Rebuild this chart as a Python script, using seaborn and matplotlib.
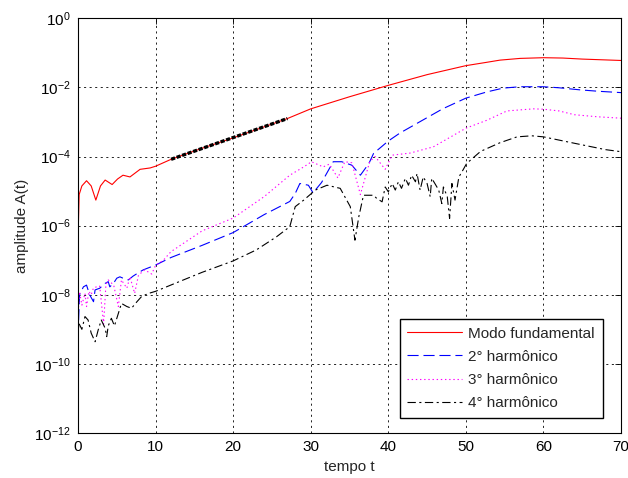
import numpy as np
import pandas as pd
import matplotlib
matplotlib.use("Agg")
import matplotlib.pyplot as plt
import seaborn as sns
from matplotlib.ticker import FixedLocator, LogFormatterSciNotation, NullLocator

# ---------------- data (amplitudes given as log10) ----
red_t = [0, 0.15, 0.5, 1.1, 1.7, 2.3, 2.9, 3.5, 4.4, 5.1, 5.8, 6.7, 8.0, 9.3, 10,
         12, 16, 20, 24, 27, 30, 35, 40, 45, 50, 52.5, 54.4, 57, 60, 62.5,
         65, 67.5, 70]
red_log = [-6.4, -5.1, -4.85, -4.70, -4.85, -5.26, -4.85, -4.68, -4.81, -4.65,
           -4.54, -4.59, -4.37, -4.33, -4.28, -4.08, -3.76, -3.46, -3.14, -2.90,
           -2.62, -2.27, -1.94, -1.63, -1.37, -1.28, -1.21, -1.16, -1.14,
           -1.15, -1.18, -1.20, -1.22]

blue_t = [0, 0.2, 0.7, 1.1, 1.5, 2.0, 2.2, 2.8, 3.5, 3.9, 4.1, 4.6, 5.0, 5.4, 5.8,
          6.5, 7.1, 7.8, 8.4, 10, 12, 16, 20, 24, 27.3, 28.0, 28.6, 29.7, 30.3,
          31.4, 32.9, 34.0, 35.3, 36.4, 37.5, 38.1, 40, 41.5, 43.7, 47, 50, 52.7,
          54.8, 57, 60, 62, 64.7, 67, 70]
blue_log = [-9.2, -8.0, -7.77, -7.72, -8.0, -8.2, -7.86, -7.81, -7.67, -7.62,
            -7.77, -7.66, -7.52, -7.48, -7.52, -7.57, -7.46, -7.36, -7.28, -7.14,
            -6.92, -6.57, -6.20, -5.68, -5.30, -5.07, -4.78, -4.83, -5.05, -4.75,
            -4.15, -4.15, -4.25, -4.54, -4.20, -3.91, -3.55, -3.32, -3.04, -2.62,
            -2.31, -2.13, -2.02, -1.98, -1.98, -2.01, -2.07, -2.11, -2.15]

mag_t = [0, 0.2, 0.5, 0.9, 1.1, 1.4, 1.7, 2.0, 2.4, 2.8, 3.3, 3.6, 3.9, 4.6, 5.2,
         5.6, 6.3, 6.7, 7.3, 7.8, 8.6, 9.5, 10, 11, 12, 16, 20, 24, 27.3, 29.1,
         30.1, 31.6, 32.4, 33.5, 34.4, 35.3, 36.4, 37.6, 38.3, 39.6, 40.5, 42.8,
         45.8, 50, 52.7, 55.3, 58.7, 60, 62, 64, 67, 70]
mag_log = [-8.6, -7.91, -8.3, -7.96, -8.34, -7.9, -8.0, -7.8, -7.77, -7.75, -8.85,
           -7.7, -7.57, -7.72, -8.34, -7.57, -7.81, -7.48, -7.96, -7.43, -7.28,
           -7.4, -7.15, -7.0, -6.75, -6.15, -5.78, -5.16, -4.54, -4.30, -4.15,
           -4.30, -4.22, -4.62, -4.15, -4.18, -5.10, -4.15, -4.00, -4.37, -3.96,
           -3.90, -3.72, -3.18, -2.95, -2.68, -2.62, -2.63, -2.68, -2.79, -2.85,
           -2.89]

blk_t = [0, 0.1, 0.5, 0.9, 1.3, 1.7, 2.2, 2.6, 3.0, 3.5, 3.7, 3.9, 4.3, 4.7, 5.2,
         5.6, 6.3, 6.9, 7.6, 8.2, 9.1, 10, 12.5, 16, 20, 23, 25.6, 27.3, 28.0,
         29.1, 30.6, 32.1, 33.8, 35.1, 35.7, 36.2, 36.8, 38.1, 38.5, 39.2, 39.6,
         40.0, 40.5, 40.9, 41.3, 41.7, 42.2, 42.6, 43.0, 43.5, 43.7, 44.1, 44.5,
         45.0, 45.4, 45.6, 46.0, 46.5, 46.9, 47.1, 47.6, 47.9, 48.2, 48.6, 49.1,
         49.5, 50.1, 51.9, 54.4, 56.6, 58.5, 60, 63, 65.6, 68, 70]
blk_log = [-9.3, -8.82, -9.0, -8.63, -8.73, -9.11, -9.36, -9.02, -8.73, -8.97,
           -9.21, -8.9, -8.68, -8.9, -8.54, -8.25, -8.34, -8.39, -8.20, -8.05,
           -7.96, -7.90, -7.67, -7.35, -7.02, -6.70, -6.32, -6.03, -5.45, -5.26,
           -4.97, -4.83, -4.92, -5.45, -6.42, -5.74, -5.12, -5.12, -5.21, -5.31,
           -4.88, -5.02, -4.78, -4.97, -4.73, -4.92, -4.63, -4.83, -4.54, -4.73,
           -4.49, -4.97, -4.59, -4.78, -5.16, -4.63, -4.78, -4.97, -5.36, -4.88,
           -5.16, -5.79, -4.78, -5.26, -4.59, -4.44, -4.20, -3.85, -3.60, -3.43,
           -3.40, -3.43, -3.57, -3.69, -3.80, -3.86]

fit_t = [12, 27]
fit_log = [-4.08, -2.90]

labels = ["Modo fundamental", "2° harmônico", "3° harmônico", "4° harmônico"]
yticks = [1e-12, 1e-10, 1e-8, 1e-6, 1e-4, 1e-2, 1e0]
xticks = [0, 10, 20, 30, 40, 50, 60, 70]

# ---------------- build tidy frame ----------------
frames = []
for name, t, lg in zip(labels, [red_t, blue_t, mag_t, blk_t],
                       [red_log, blue_log, mag_log, blk_log]):
    frames.append(pd.DataFrame({"t": t, "A": 10.0 ** np.asarray(lg), "serie": name}))
df = pd.concat(frames, ignore_index=True)
fit_df = pd.DataFrame({"t": fit_t, "A": 10.0 ** np.asarray(fit_log)})

sns.set_theme(style="white")
plt.rcParams["font.family"] = ["Liberation Sans", "DejaVu Sans"]
plt.rcParams["lines.scale_dashes"] = False
plt.rcParams["mathtext.fontset"] = "custom"
plt.rcParams["mathtext.rm"] = "Liberation Sans"
plt.rcParams["mathtext.it"] = "Liberation Sans"

fig = plt.figure(figsize=(6.28, 4.78), dpi=100)
ax = fig.add_axes([0.1242, 0.0941, 0.8647, 0.8676])

colors = ["#ff0000", "#0000ff", "#ff00ff", "#000000"]
dashes = [(None, None), (8, 3.5), (1, 2), (6, 2.5, 1.5, 2.5)]
for name, c, d in zip(labels, colors, dashes):
    sub = df[df["serie"] == name]
    sns.lineplot(data=sub, x="t", y="A", ax=ax, sort=False, estimator=None,
                 label=name, color=c, linewidth=0.8)
    if d[0] is not None:
        ax.lines[-1].set_dashes(d)

sns.lineplot(data=fit_df, x="t", y="A", ax=ax, sort=False, estimator=None,
             color="black", linewidth=2.4, legend=False)
ax.lines[-1].set_dashes((3, 1.2))
ax.lines[-1].set_zorder(3)

ax.set_yscale("log")
ax.set_xlim(0, 70)
ax.set_ylim(1e-12, 1e0)
ax.yaxis.set_major_locator(FixedLocator(yticks))
ax.yaxis.set_minor_locator(NullLocator())
ax.yaxis.set_major_formatter(LogFormatterSciNotation())
ax.set_xticks(xticks)
ax.set_xticklabels([str(v) for v in xticks])

ax.grid(True, which="major", color="black", linestyle=(0, (1.5, 2.5)), linewidth=0.6)
ax.tick_params(direction="in", length=4, width=0.6, top=True, right=True,
               labelsize=11, colors="black", pad=5)
for s in ax.spines.values():
    s.set_visible(True)
    s.set_color("black")
    s.set_linewidth(0.8)

ax.set_xlabel("tempo t", fontsize=11, labelpad=4)
ax.set_ylabel("amplitude A(t)", fontsize=11, labelpad=4)

leg = ax.legend(loc="lower right", bbox_to_anchor=(0.966, 0.037), fontsize=11,
                frameon=True, fancybox=False, edgecolor="black", framealpha=1,
                handlelength=3.6, labelspacing=0.6, borderpad=0.5,
                handletextpad=0.4, borderaxespad=0)
leg.get_frame().set_linewidth(1.0)
leg.set_zorder(5)

fig.savefig("out.png", dpi=100)
